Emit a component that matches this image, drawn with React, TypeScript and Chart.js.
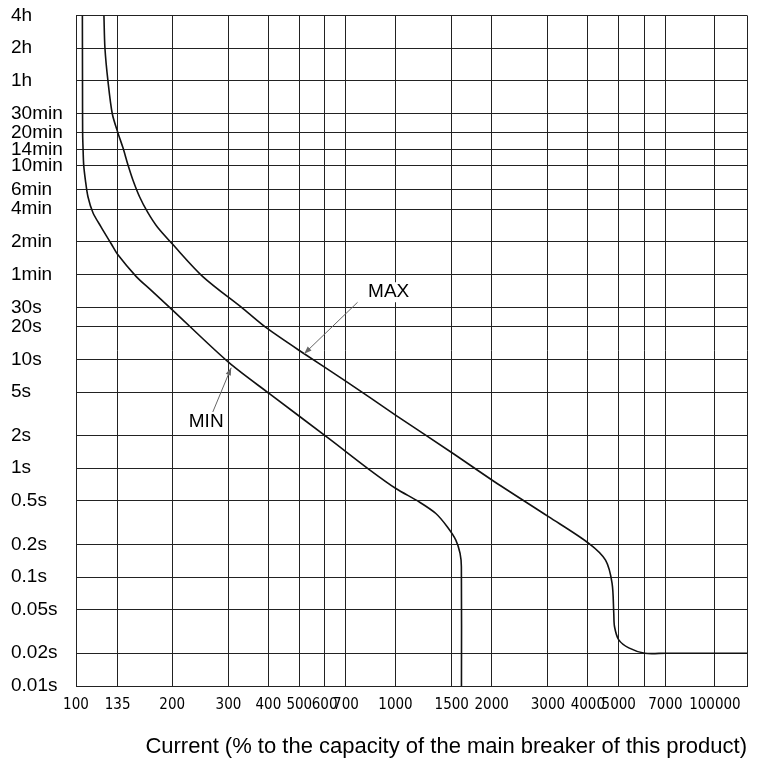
import React, { useEffect, useRef } from "react";
import { Chart, registerables } from "chart.js";

Chart.register(...registerables);

// ---- axis ticks ----
const xTickValues = [100, 135, 200, 300, 400, 500, 600, 700, 1000, 1500, 2000, 3000, 4000, 5000, 6000, 7000, 10000, 12600];
const xTickLabels = ["100", "135", "200", "300", "400", "500", "600", "700", "1000", "1500", "2000", "3000", "4000", "5000", "", "7000", "100000", ""];

const yTickValues = [14400, 7200, 3600, 1800, 1200, 840, 600, 360, 240, 120, 60, 30, 20, 10, 5, 2, 1, 0.5, 0.2, 0.1, 0.05, 0.02, 0.01];
const yTickLabels = ["4h", "2h", "1h", "30min", "20min", "14min", "10min", "6min", "4min", "2min", "1min", "30s", "20s", "10s", "5s", "2s", "1s", "0.5s", "0.2s", "0.1s", "0.05s", "0.02s", "0.01s"];

// ---- curves (current % , time s) ----
const maxCurrent = [122.3, 123.2, 125.9, 129.9, 135.3, 140.3, 145.4, 150.7, 158.1, 167.9, 180, 200, 249.4, 334, 398, 518, 706, 1003, 1507, 2009, 3022, 4029, 4545, 4765, 4823, 4850, 5000, 5374, 6030, 7000, 10000, 12600];
const maxTime = [14400, 7200, 3600, 1800, 1200, 875, 611, 443, 311, 222, 163, 115, 57.5, 29.1, 19.1, 11.25, 6.18, 3.06, 1.38, 0.776, 0.357, 0.204, 0.143, 0.0877, 0.0466, 0.035, 0.0265, 0.0224, 0.02, 0.02, 0.02, 0.02];

const minCurrent = [104.7, 104.8, 104.9, 105.2, 105.7, 107, 109, 113, 120, 129, 134.7, 154.4, 170, 198.6, 300, 403, 621, 828, 1003, 1186, 1338, 1454, 1545, 1593, 1608, 1609];
const minTime = [14400, 3600, 1200, 875, 611, 443, 311, 222, 163, 114.6, 92.8, 57.5, 44.3, 29.1, 9.42, 4.84, 1.86, 0.972, 0.651, 0.491, 0.384, 0.289, 0.219, 0.165, 0.1245, 0.01];

// ---- annotations ----
const annotationText = ["MAX", "MIN"];
const annotationLabelX = [952, 255.6];
const annotationLabelY = [41.3, 2.66];
const arrowFromX = [761, 268];
const arrowFromY = [33.4, 3.28];
const arrowToX = [518, 306];
const arrowToY = [11.25, 8.37];

const axisTitle = "Current (% to the capacity of the main breaker of this product)";

const SANS = '"Liberation Sans", Arial, sans-serif';
const NARROW = '"Liberation Sans Narrow", "Arial Narrow", "DejaVu Sans Condensed", sans-serif';

const annotationPlugin = {
  id: "tripAnnotations",
  afterDatasetsDraw(chart: any) {
    const { ctx, scales } = chart;
    const xs = scales.x;
    const ys = scales.y;
    ctx.save();
    for (let i = 0; i < annotationText.length; i++) {
      const fx = xs.getPixelForValue(arrowFromX[i]);
      const fy = ys.getPixelForValue(arrowFromY[i]);
      const tx = xs.getPixelForValue(arrowToX[i]);
      const ty = ys.getPixelForValue(arrowToY[i]);
      ctx.strokeStyle = "#666";
      ctx.fillStyle = "#666";
      ctx.lineWidth = 1;
      ctx.beginPath();
      ctx.moveTo(fx, fy);
      ctx.lineTo(tx, ty);
      ctx.stroke();
      const ang = Math.atan2(ty - fy, tx - fx);
      const len = 8;
      const spread = 0.35;
      ctx.beginPath();
      ctx.moveTo(tx, ty);
      ctx.lineTo(tx - len * Math.cos(ang - spread), ty - len * Math.sin(ang - spread));
      ctx.lineTo(tx - len * Math.cos(ang + spread), ty - len * Math.sin(ang + spread));
      ctx.closePath();
      ctx.fill();

      const lx = xs.getPixelForValue(annotationLabelX[i]);
      const ly = ys.getPixelForValue(annotationLabelY[i]);
      ctx.font = `19px ${SANS}`;
      const w = ctx.measureText(annotationText[i]).width;
      ctx.fillStyle = "#fff";
      ctx.fillRect(lx - w / 2 - 2, ly - 10, w + 4, 20);
      ctx.fillStyle = "#000";
      ctx.textAlign = "center";
      ctx.textBaseline = "middle";
      ctx.fillText(annotationText[i], lx, ly);
    }
    ctx.restore();
  },
};

export default function App() {
  const canvasRef = useRef<HTMLCanvasElement | null>(null);

  useEffect(() => {
    const canvas = canvasRef.current;
    if (!canvas) return;
    Chart.defaults.font.family = SANS;
    Chart.defaults.color = "#000";

    const chart = new Chart(canvas, {
      type: "scatter",
      data: {
        datasets: [
          {
            label: "MAX",
            data: maxCurrent.map((x, i) => ({ x, y: maxTime[i] })),
            showLine: true,
            borderColor: "#111",
            borderWidth: 1.6,
            pointRadius: 0,
            tension: 0.3,
            fill: false,
          },
          {
            label: "MIN",
            data: minCurrent.map((x, i) => ({ x, y: minTime[i] })),
            showLine: true,
            borderColor: "#111",
            borderWidth: 1.6,
            pointRadius: 0,
            tension: 0.3,
            fill: false,
          },
        ],
      },
      options: {
        animation: false,
        responsive: true,
        maintainAspectRatio: false,
        layout: { padding: { left: 11, right: 9, top: 14, bottom: 0 } },
        plugins: {
          legend: { display: false },
          tooltip: { enabled: false },
        },
        scales: {
          x: {
            type: "logarithmic",
            min: 100,
            max: 12600,
            afterBuildTicks: (scale: any) => {
              scale.ticks = xTickValues.map((v) => ({ value: v }));
            },
            afterFit: (scale: any) => {
              scale.height = 79;
            },
            grid: { color: "#222", lineWidth: 1, drawTicks: false },
            border: { color: "#222", width: 1 },
            ticks: {
              autoSkip: false,
              maxRotation: 0,
              minRotation: 0,
              padding: 10,
              color: "#000",
              font: { family: NARROW, size: 15 },
              callback: (value: any) => {
                const i = xTickValues.indexOf(Number(value));
                return i >= 0 ? xTickLabels[i] : "";
              },
            },
            title: {
              display: true,
              text: axisTitle,
              align: "end",
              color: "#000",
              font: { family: SANS, size: 22 },
              padding: { top: 0, bottom: 5 },
            },
          },
          y: {
            type: "logarithmic",
            min: 0.01,
            max: 14400,
            afterBuildTicks: (scale: any) => {
              scale.ticks = yTickValues.map((v) => ({ value: v }));
            },
            afterFit: (scale: any) => {
              scale.width = 65;
            },
            grid: { color: "#222", lineWidth: 1, drawTicks: false },
            border: { color: "#222", width: 1 },
            ticks: {
              autoSkip: false,
              crossAlign: "far",
              padding: 4,
              color: "#000",
              font: { family: SANS, size: 19 },
              callback: (value: any) => {
                const i = yTickValues.indexOf(Number(value));
                return i >= 0 ? yTickLabels[i] : "";
              },
            },
          },
        },
      },
      plugins: [annotationPlugin],
    } as any);

    return () => {
      chart.destroy();
    };
  }, []);

  return (
    <div style={{ position: "absolute", left: 0, top: 0, width: 757, height: 765, background: "#fff" }}>
      <canvas ref={canvasRef} />
    </div>
  );
}
